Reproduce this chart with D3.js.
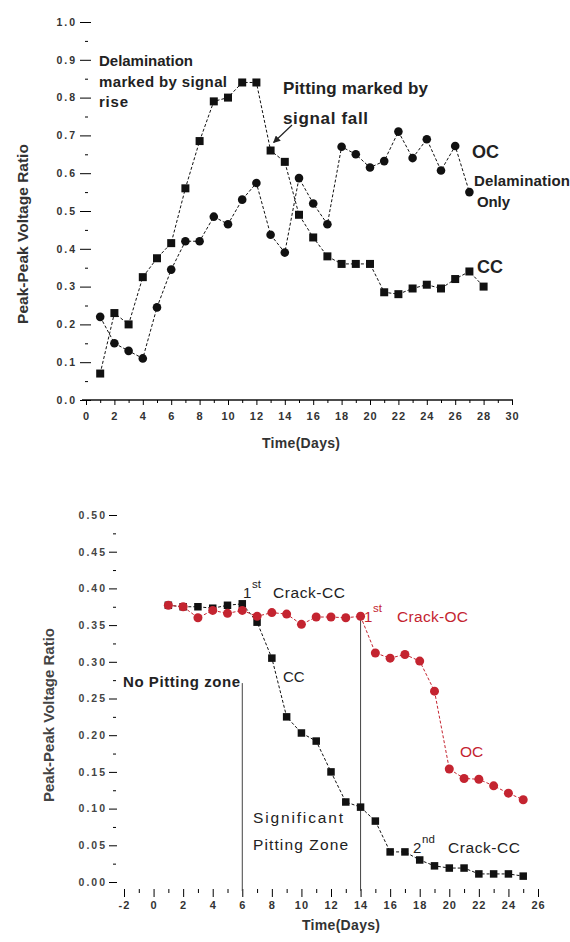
<!DOCTYPE html>
<html>
<head>
<meta charset="utf-8">
<script src="https://d3js.org/d3.v7.min.js"></script>
<style>
  body { margin: 0; background: #fff; font-family: "Liberation Sans", Arial, sans-serif; }
  .tick text { font-family: "Liberation Sans", Arial, sans-serif; }
</style>
</head>
<body>
<svg id="chart" width="570" height="942"></svg>
<script>
// top panel: days 1..28 (CC squares), 1..27 (OC circles)
var topCcDays = d3.range(1, 29);
var topCcValues = [0.07, 0.23, 0.20, 0.325, 0.375, 0.415, 0.56, 0.685, 0.79, 0.80, 0.84, 0.84, 0.66, 0.63,
                   0.49, 0.43, 0.38, 0.36, 0.36, 0.36, 0.285, 0.28, 0.295, 0.305, 0.295, 0.32, 0.34, 0.30];
var topOcDays = d3.range(1, 28);
var topOcValues = [0.22, 0.15, 0.13, 0.11, 0.245, 0.345, 0.42, 0.42, 0.485, 0.465, 0.53, 0.574, 0.437, 0.39,
                   0.587, 0.52, 0.465, 0.67, 0.65, 0.615, 0.632, 0.71, 0.64, 0.69, 0.607, 0.672, 0.55];
var topXTicks = d3.range(0, 31, 2);
var topYTicks = d3.range(0, 11).map(function (i) { return i / 10; });

// bottom panel: days 1..25
var botDays = d3.range(1, 26);
var botCcValues = [0.377, 0.375, 0.375, 0.373, 0.377, 0.379, 0.354, 0.305, 0.225, 0.203, 0.192, 0.15, 0.109,
                   0.102, 0.083, 0.041, 0.041, 0.03, 0.022, 0.019, 0.019, 0.011, 0.011, 0.011, 0.008];
var botOcValues = [0.377, 0.375, 0.36, 0.37, 0.366, 0.37, 0.362, 0.367, 0.365, 0.351, 0.361, 0.361, 0.36,
                   0.362, 0.312, 0.305, 0.31, 0.301, 0.26, 0.154, 0.141, 0.14, 0.131, 0.121, 0.112];
var botXTicks = d3.range(-2, 27, 2);
var botYTicks = d3.range(0, 11).map(function (i) { return i * 0.05; });
var zoneLines = [{day: 6, from: 0.271}, {day: 14, from: 0.362}];

var red = "#c42430";
var svg = d3.select("#chart");

function dashedLine(g, x, y, days, values, color) {
    var line = d3.line()
        .x(function (d, i) { return x(days[i]); })
        .y(function (d) { return y(d); });
    g.append("path")
        .datum(values)
        .attr("d", line)
        .attr("fill", "none")
        .attr("stroke", color)
        .attr("stroke-width", 1)
        .attr("stroke-dasharray", "3,2");
}

function squares(g, x, y, days, values, size, color) {
    g.selectAll(null)
        .data(values)
        .enter().append("rect")
        .attr("x", function (d, i) { return x(days[i]) - size / 2; })
        .attr("y", function (d) { return y(d) - size / 2; })
        .attr("width", size)
        .attr("height", size)
        .attr("fill", color);
}

function circles(g, x, y, days, values, r, color) {
    g.selectAll(null)
        .data(values)
        .enter().append("circle")
        .attr("cx", function (d, i) { return x(days[i]); })
        .attr("cy", function (d) { return y(d); })
        .attr("r", r)
        .attr("fill", color);
}

// text note; width stretches letter spacing to the reference's span
function note(g, px, py, txt, size, weight, color, width) {
    var t = g.append("text")
        .attr("x", px).attr("y", py)
        .attr("font-size", size)
        .attr("font-weight", weight || "normal")
        .style("fill", color || "#222")
        .text(txt);
    if (width) t.attr("textLength", width).attr("lengthAdjust", "spacing");
    return t;
}

// ---------- top chart ----------
var tx = d3.scaleLinear().domain([0, 30]).range([86, 512]);
var ty = d3.scaleLinear().domain([0, 1]).range([400, 22]);
var topG = svg.append("g");

var txAxis = topG.append("g").attr("transform", "translate(0,400)")
    .call(d3.axisBottom(tx).tickValues(topXTicks).tickSize(5).tickPadding(7).tickFormat(d3.format("d")));
txAxis.select(".domain").attr("d", "M82,0H513").attr("stroke", "#111").attr("stroke-width", 1.3);
txAxis.selectAll(".tick text").attr("font-size", 11).attr("font-weight", "bold")
    .attr("letter-spacing", 1).style("fill", "#333");
topG.append("g").attr("transform", "translate(0,400)")
    .call(d3.axisBottom(tx).tickValues(d3.range(1, 30, 2)).tickSize(3).tickFormat(""))
    .select(".domain").remove();

// y axis: ticks point inward, no visible spine
var tyAxis = topG.append("g").attr("transform", "translate(80,0)")
    .call(d3.axisLeft(ty).tickValues(topYTicks).tickSize(-11).tickPadding(3).tickFormat(d3.format(".1f")));
tyAxis.select(".domain").remove();
tyAxis.selectAll(".tick text").attr("font-size", 10.5).attr("font-weight", "bold")
    .attr("letter-spacing", 2).style("fill", "#333");
var tyMinor = topG.append("g").attr("transform", "translate(85,0)")
    .call(d3.axisLeft(ty).tickValues(d3.range(0, 10).map(function (i) { return i / 10 + 0.05; }))
        .tickSize(-3).tickFormat(""));
tyMinor.select(".domain").remove();

dashedLine(topG, tx, ty, topCcDays, topCcValues, "#111");
dashedLine(topG, tx, ty, topOcDays, topOcValues, "#111");
squares(topG, tx, ty, topCcDays, topCcValues, 8, "#111");
circles(topG, tx, ty, topOcDays, topOcValues, 4.3, "#111");

topG.append("text")
    .attr("transform", "translate(28,234) rotate(-90)")
    .attr("text-anchor", "middle")
    .attr("font-size", 15.5).attr("font-weight", "bold").style("fill", "#333")
    .text("Peak-Peak Voltage Ratio");
topG.append("text")
    .attr("x", 262).attr("y", 448)
    .attr("font-size", 14).attr("font-weight", "bold").style("fill", "#333")
    .attr("textLength", 78).attr("lengthAdjust", "spacing")
    .text("Time(Days)");

note(topG, 99, 66, "Delamination", 15, "bold", "#222", 94);
note(topG, 99, 87, "marked by signal", 15, "bold", "#222", 128);
note(topG, 99, 107, "rise", 15, "bold", "#222", 29);
note(topG, 283, 94, "Pitting marked by", 17, "bold", "#222", 145);
note(topG, 283, 124, "signal  fall", 17, "bold", "#222", 85);
note(topG, 472, 158, "OC", 18, "bold", "#222");
note(topG, 474, 186, "Delamination", 15, "bold", "#222", 96);
note(topG, 477, 207, "Only", 15, "bold", "#222", 33);
note(topG, 477, 273, "CC", 18, "bold", "#222");

var defs = svg.append("defs");
defs.append("marker").attr("id", "arr").attr("viewBox", "0 0 10 10")
    .attr("refX", 9).attr("refY", 5).attr("markerWidth", 6).attr("markerHeight", 6)
    .attr("orient", "auto")
    .append("path").attr("d", "M0,0L10,5L0,10z").attr("fill", "#222");
topG.append("line")
    .attr("x1", 292).attr("y1", 125)
    .attr("x2", tx(13) + 3).attr("y2", ty(0.66) - 8)
    .attr("stroke", "#222").attr("stroke-width", 1.2)
    .attr("marker-end", "url(#arr)");

// ---------- bottom chart ----------
var bx = d3.scaleLinear().domain([-2, 26]).range([124, 538]);
var by = d3.scaleLinear().domain([0, 0.5]).range([882, 515]);
var botG = svg.append("g");

var bxAxis = botG.append("g").attr("transform", "translate(0,889)")
    .call(d3.axisBottom(bx).tickValues(botXTicks).tickSize(8).tickPadding(4)
        .tickFormat(function (d) { return d < 0 ? "-" + (-d) : d; }));
bxAxis.select(".domain").remove();
bxAxis.selectAll(".tick text").attr("font-size", 11).attr("font-weight", "bold")
    .attr("letter-spacing", 1).style("fill", "#333");
botG.append("g").attr("transform", "translate(0,889)")
    .call(d3.axisBottom(bx).tickValues(d3.range(-1, 27, 2)).tickSize(4).tickFormat(""))
    .select(".domain").remove();

var byAxis = botG.append("g").attr("transform", "translate(109,0)")
    .call(d3.axisLeft(by).tickValues(botYTicks).tickSize(-8).tickPadding(2).tickFormat(d3.format(".2f")));
byAxis.select(".domain").remove();
byAxis.selectAll(".tick text").attr("font-size", 10.5).attr("font-weight", "bold")
    .attr("letter-spacing", 2).style("fill", "#444");
var byMinor = botG.append("g").attr("transform", "translate(113,0)")
    .call(d3.axisLeft(by).tickValues(d3.range(0, 10).map(function (i) { return i * 0.05 + 0.025; }))
        .tickSize(-3).tickFormat(""));
byMinor.select(".domain").remove();

botG.selectAll(null)
    .data(zoneLines)
    .enter().append("line")
    .attr("x1", function (d) { return bx(d.day); })
    .attr("x2", function (d) { return bx(d.day); })
    .attr("y1", function (d) { return by(d.from); })
    .attr("y2", 891)
    .attr("stroke", "#444").attr("stroke-width", 1);

dashedLine(botG, bx, by, botDays, botCcValues, "#111");
dashedLine(botG, bx, by, botDays, botOcValues, red);
squares(botG, bx, by, botDays, botCcValues, 7.5, "#111");
circles(botG, bx, by, botDays, botOcValues, 4.5, red);

botG.append("text")
    .attr("transform", "translate(54,715) rotate(-90)")
    .attr("text-anchor", "middle")
    .attr("font-size", 15).attr("font-weight", "bold").style("fill", "#444")
    .text("Peak-Peak Voltage Ratio");
botG.append("text")
    .attr("x", 302).attr("y", 930)
    .attr("font-size", 14).attr("font-weight", "bold").style("fill", "#333")
    .attr("textLength", 78).attr("lengthAdjust", "spacing")
    .text("Time(Days)");

function ordinal(g, px, py, num, sup, rest, restX, restW, color) {
    note(g, px, py, num, 15, "normal", color);
    note(g, px + 9, py - 10, sup, 11.5, "normal", color);
    note(g, restX, py, rest, 15.5, "normal", color, restW);
}
ordinal(botG, 243, 598, "1", "st", "Crack-CC", 273, 72);
ordinal(botG, 364, 622, "1", "st", "Crack-OC", 397, 71, red);
ordinal(botG, 413, 853, "2", "nd", "Crack-CC", 448, 72);
note(botG, 123, 687, "No Pitting zone", 15, "bold", "#222", 117);
note(botG, 283, 682, "CC", 15, "normal", "#222");
note(botG, 460, 757, "OC", 15.5, "normal", red);
note(botG, 253, 823, "Significant", 15.5, "normal", "#222", 90);
note(botG, 253, 850, "Pitting Zone", 15.5, "normal", "#222", 95);
</script>
</body>
</html>
